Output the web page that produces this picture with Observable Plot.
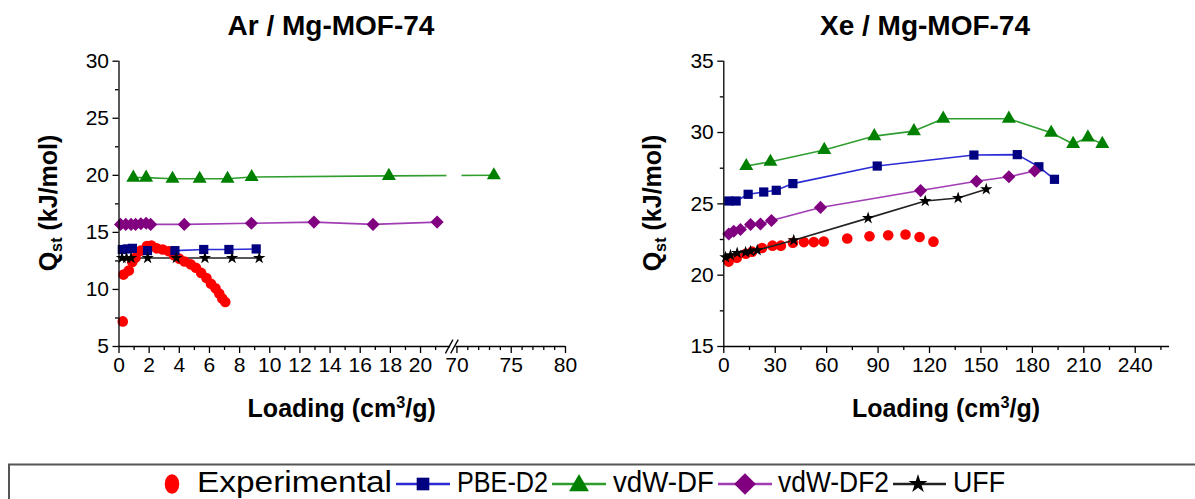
<!DOCTYPE html>
<html><head><meta charset="utf-8">
<script src="https://cdn.jsdelivr.net/npm/d3@7"></script>
<script src="https://cdn.jsdelivr.net/npm/@observablehq/plot@0.6"></script>
<style>
body{margin:0;background:#fff;width:1195px;height:499px;overflow:hidden;position:relative;font-family:"Liberation Sans",Arial,sans-serif;color:#000;}
.abs{position:absolute;}
.title{font-weight:bold;font-size:28px;line-height:28px;white-space:nowrap;transform:translateX(-50%);}
.xlab{font-weight:bold;font-size:25px;line-height:26px;white-space:nowrap;transform:translateX(-50%);}
.ylab{font-weight:bold;font-size:25px;line-height:26px;white-space:nowrap;transform:translate(-50%,-50%) rotate(-90deg);}
sub{font-size:65%;vertical-align:-0.3em;line-height:0;}
sup{font-size:65%;vertical-align:0.55em;line-height:0;}
</style></head><body>
<div id="left" class="abs" style="left:0;top:0"></div>
<div id="right" class="abs" style="left:600px;top:0"></div>
<div class="abs title" style="left:331px;top:12px">Ar / Mg-MOF-74</div>
<div class="abs title" style="left:925px;top:12px">Xe / Mg-MOF-74</div>
<div class="abs xlab" style="left:341.7px;top:395px">Loading (cm<sup>3</sup>/g)</div>
<div class="abs xlab" style="left:946px;top:395px">Loading (cm<sup>3</sup>/g)</div>
<div class="abs ylab" style="left:48px;top:203px">Q<sub>st</sub> (kJ/mol)</div>
<div class="abs ylab" style="left:652px;top:203px">Q<sub>st</sub> (kJ/mol)</div>
<svg id="legend" class="abs" style="left:0;top:455px" width="1195" height="44"></svg>
<script>
// ---------- Series names & colours ----------
const seriesNames = ["Experimental", "PBE-D2", "vdW-DF", "vdW-DF2", "UFF"];
const lineColors  = ["none", "#2b2bd6", "#2f9e2f", "#a03cb4", "#222222"];
const fillColors  = ["#ff0000", "#000080", "#008000", "#800080", "#000000"];
const symbols     = ["circle", "square", "triangle", "diamond2", "star"];

// ---------- Ar / Mg-MOF-74 ----------
const arExpX  = [0.25, 0.3, 0.65, 0.88, 1.1, 1.44, 1.85, 2.15, 2.5, 2.9, 3.3, 3.65, 4.0, 4.35, 4.75, 5.1, 5.45, 5.8, 6.1, 6.4, 6.65, 6.85, 7.05];
const arExpY  = [7.2, 11.3, 11.65, 12.4, 12.8, 13.4, 13.8, 13.85, 13.6, 13.5, 13.35, 13.0, 12.7, 12.45, 12.2, 11.9, 11.45, 11.0, 10.5, 10.1, 9.65, 9.2, 8.9];
const arPbeX  = [0.22, 0.56, 0.89, 1.89, 3.71, 5.62, 7.29, 9.1];
const arPbeY  = [13.5, 13.55, 13.6, 13.4, 13.4, 13.5, 13.5, 13.55];
const arDfX   = [0.95, 1.8, 3.55, 5.35, 7.2, 8.8, 17.9, 73.4];
const arDfY   = [19.8, 19.8, 19.7, 19.7, 19.7, 19.85, 19.95, 20.0];
const arDf2X  = [0.1, 0.45, 0.8, 1.1, 1.45, 1.8, 2.1, 4.33, 8.78, 12.93, 16.85, 21.1];
const arDf2Y  = [15.7, 15.7, 15.7, 15.7, 15.75, 15.8, 15.7, 15.7, 15.8, 15.9, 15.7, 15.9];
const arUffX  = [0.2, 0.5, 0.8, 1.9, 3.8, 5.7, 7.5, 9.3];
const arUffY  = [12.75, 12.75, 12.75, 12.75, 12.75, 12.75, 12.75, 12.75];

// ---------- Xe / Mg-MOF-74 ----------
const xeExpX  = [2.8, 7.6, 12.8, 16.5, 22.3, 28.4, 33.3, 40.3, 46.7, 52.5, 58.3, 72, 85, 95.9, 106, 114.2, 122.3];
const xeExpY  = [20.95, 21.23, 21.5, 21.65, 21.9, 22.07, 22.07, 22.27, 22.32, 22.32, 22.36, 22.57, 22.73, 22.8, 22.85, 22.68, 22.35];
const xePbeX  = [2.9, 7.2, 14.2, 23.3, 30.6, 40.3, 89.5, 145.9, 171.2, 183.8, 192.9];
const xePbeY  = [25.2, 25.2, 25.67, 25.83, 25.95, 26.42, 27.65, 28.42, 28.45, 27.6, 26.72];
const xeDfX   = [13.1, 27.2, 58.6, 87.8, 110.9, 128, 166.3, 191, 203.8, 212.4, 220.8];
const xeDfY   = [27.65, 27.95, 28.78, 29.75, 30.1, 30.97, 30.97, 29.98, 29.2, 29.66, 29.2];
const xeDf2X  = [2.9, 5.8, 9.7, 15.6, 21.4, 27.8, 56.4, 114.8, 147.4, 166.3, 181.3];
const xeDf2Y  = [22.89, 23.08, 23.2, 23.55, 23.59, 23.83, 24.75, 25.93, 26.58, 26.9, 27.3];
const xeUffX  = [1.0, 3.9, 7.8, 12.7, 15.6, 19.5, 40.8, 84.2, 117.5, 136.7, 153.1];
const xeUffY  = [21.26, 21.4, 21.56, 21.61, 21.68, 21.75, 22.45, 24.0, 25.2, 25.41, 26.02];

// ---------- Axis ticks ----------
const arXMajor = [0, 2, 4, 6, 8, 10, 12, 14, 16, 18, 20, 70, 75, 80];
const arXMinor = [1, 3, 5, 7, 9, 11, 13, 15, 17, 19, 21, 71, 72, 73, 74, 76, 77, 78, 79];
const arYMajor = [5, 10, 15, 20, 25, 30];
const arYMinor = [7.5, 12.5, 17.5, 22.5, 27.5];
const xeXMajor = [0, 30, 60, 90, 120, 150, 180, 210, 240];
const xeXMinor = [15, 45, 75, 105, 135, 165, 195, 225, 255];
const xeYMajor = [15, 20, 25, 30, 35];
const xeYMinor = [17.5, 22.5, 27.5, 32.5];

// broken axis: [0, leftEnd] then [rightStart, 80]
const brkLeftEnd = 22.2, brkRightStart = 69.7, brkRatio = 0.72, arXMax = 80;
const tx = x => x <= brkLeftEnd ? x : brkLeftEnd + (x - brkRightStart) * brkRatio;

const pts = (xs, ys, f = x => x) => xs.map((x, i) => ({x: f(x), y: ys[i]}));

const symR = {circle: 5.3, square: 5.2, triangle: 5.2, diamond2: 5.9, star: 3.9};
const FS = 21;

const lineMarks = sets => sets.map((d, i) => lineColors[i] === "none" ? null :
  Plot.line(d, {x: "x", y: "y", stroke: lineColors[i], strokeWidth: 1.6})).filter(Boolean);
const dotMarks = sets => sets.map((d, i) =>
  Plot.dot(d, {x: "x", y: "y", symbol: () => symbols[i], fill: fillColors[i], stroke: "none", r: symR[symbols[i]]}));

const baseStyle = {fontFamily: "'Liberation Sans', Arial, sans-serif", fontSize: FS + "px", color: "#000", background: "transparent", overflow: "visible"};

function fixFonts(svg) {
  d3.select(svg).selectAll("text").attr("font-size", FS).style("font-size", FS + "px")
    .attr("font-family", "'Liberation Sans', Arial, sans-serif");
}

// ---------- Left plot ----------
{
  const sets = [pts(arExpX, arExpY, tx), pts(arPbeX, arPbeY, tx), pts(arDfX, arDfY, tx), pts(arDf2X, arDf2Y, tx), pts(arUffX, arUffY, tx)];
  const labelMap = new Map(arXMajor.map(v => [tx(v), String(v)]));
  const bT = tx(brkLeftEnd);
  const axisSegs = [{a: 0, b: bT - 0.2}, {a: bT + 0.15, b: tx(arXMax)}];
  const slashes = [{x1: bT - 0.55, x2: bT - 0.05, y1: 4.4, y2: 5.6}, {x1: bT - 0.2, x2: bT + 0.3, y1: 4.4, y2: 5.6}];
  const plot = Plot.plot({
    width: 600, height: 440,
    marginLeft: 118.5, marginRight: 35, marginTop: 60.7, marginBottom: 94,
    x: {domain: [0, tx(arXMax)]},
    y: {domain: [5, 30]},
    style: baseStyle,
    marks: [
      ...lineMarks(sets),
      Plot.rect([{x1: bT - 0.45, x2: bT + 0.55, y1: 19.0, y2: 20.8}], {x1: "x1", x2: "x2", y1: "y1", y2: "y2", fill: "white"}),
      ...dotMarks(sets),
      Plot.ruleX([0], {stroke: "#000", strokeWidth: 1.3}),
      Plot.ruleY(axisSegs, {y: () => 5, x1: "a", x2: "b", stroke: "#000", strokeWidth: 1.3}),
      Plot.link(slashes, {x1: "x1", x2: "x2", y1: "y1", y2: "y2", stroke: "#000", strokeWidth: 1.3}),
      Plot.axisY(arYMajor, {anchor: "left", tickSize: 6, tickPadding: 4, label: null, strokeWidth: 1.3, fontSize: FS}),
      Plot.axisY(arYMinor, {anchor: "left", tickSize: 3.5, tickFormat: () => "", label: null, strokeWidth: 1.3}),
      Plot.axisX(arXMajor.map(tx), {anchor: "bottom", tickSize: 7, tickPadding: 4, tickFormat: t => labelMap.get(t), label: null, strokeWidth: 1.3, fontSize: FS}),
      Plot.axisX(arXMinor.map(tx), {anchor: "bottom", tickSize: 4, tickFormat: () => "", label: null, strokeWidth: 1.3})
    ]
  });
  fixFonts(plot);
  document.getElementById("left").append(plot);
}

// ---------- Right plot ----------
{
  const sets = [pts(xeExpX, xeExpY), pts(xePbeX, xePbeY), pts(xeDfX, xeDfY), pts(xeDf2X, xeDf2Y), pts(xeUffX, xeUffY)];
  const plot = Plot.plot({
    width: 595, height: 440,
    marginLeft: 123.3, marginRight: 26, marginTop: 60.7, marginBottom: 94,
    x: {domain: [0, 260]},
    y: {domain: [15, 35]},
    style: baseStyle,
    marks: [
      ...sets.flatMap((d, i) => [
        lineColors[i] === "none" ? null : Plot.line(d, {x: "x", y: "y", stroke: lineColors[i], strokeWidth: 1.6}),
        Plot.dot(d, {x: "x", y: "y", symbol: () => symbols[i], fill: fillColors[i], stroke: "none", r: symR[symbols[i]]})
      ]).filter(Boolean),
      Plot.ruleX([0], {stroke: "#000", strokeWidth: 1.3}),
      Plot.ruleY([15], {stroke: "#000", strokeWidth: 1.3}),
      Plot.axisY(xeYMajor, {anchor: "left", tickSize: 6, tickPadding: 4, label: null, strokeWidth: 1.3, fontSize: FS}),
      Plot.axisY(xeYMinor, {anchor: "left", tickSize: 3.5, tickFormat: () => "", label: null, strokeWidth: 1.3}),
      Plot.axisX(xeXMajor, {anchor: "bottom", tickSize: 7, tickPadding: 4, tickFormat: d => String(d), label: null, strokeWidth: 1.3, fontSize: FS}),
      Plot.axisX(xeXMinor, {anchor: "bottom", tickSize: 4, tickFormat: () => "", label: null, strokeWidth: 1.3})
    ]
  });
  fixFonts(plot);
  document.getElementById("right").append(plot);
}

// ---------- Legend ----------
{
  const svg = d3.select("#legend");
  svg.append("rect").attr("x", 9).attr("y", 9.5).attr("width", 1200).attr("height", 60)
     .attr("fill", "none").attr("stroke", "#555").attr("stroke-width", 2);
  const cy = 29, base = 37;
  const layout = [
    {line: null, sym: 172, text: [197, 392]},
    {line: [396, 450], sym: 423, text: [457, 548]},
    {line: [552, 606], sym: 579, text: [613, 714]},
    {line: [718, 772], sym: 745, text: [778, 889]},
    {line: [893, 946], sym: 918, text: [953, 1005]}
  ];
  const legSize = {circle: 230, square: 160, triangle: 170, diamond2: 300, star: 110};
  const d3sym = {circle: d3.symbolCircle, square: d3.symbolSquare, triangle: d3.symbolTriangle, diamond2: d3.symbolDiamond2, star: d3.symbolStar};
  seriesNames.forEach((name, i) => {
    const L = layout[i];
    if (L.line) svg.append("line").attr("x1", L.line[0]).attr("x2", L.line[1]).attr("y1", cy).attr("y2", cy)
        .attr("stroke", lineColors[i]).attr("stroke-width", 2.5);
    svg.append("path").attr("d", d3.symbol(d3sym[symbols[i]], legSize[symbols[i]])())
       .attr("transform", `translate(${L.sym},${cy + (symbols[i] === "triangle" ? 1.5 : 0)})` + (symbols[i] === "circle" ? " scale(0.85,1.15)" : ""))
       .attr("fill", fillColors[i]);
    svg.append("text").attr("x", L.text[0]).attr("y", base).attr("font-size", 29)
       .attr("textLength", L.text[1] - L.text[0]).attr("lengthAdjust", "spacingAndGlyphs")
       .attr("font-family", "'Liberation Sans', Arial, sans-serif").text(name);
  });
}
</script>
</body></html>
